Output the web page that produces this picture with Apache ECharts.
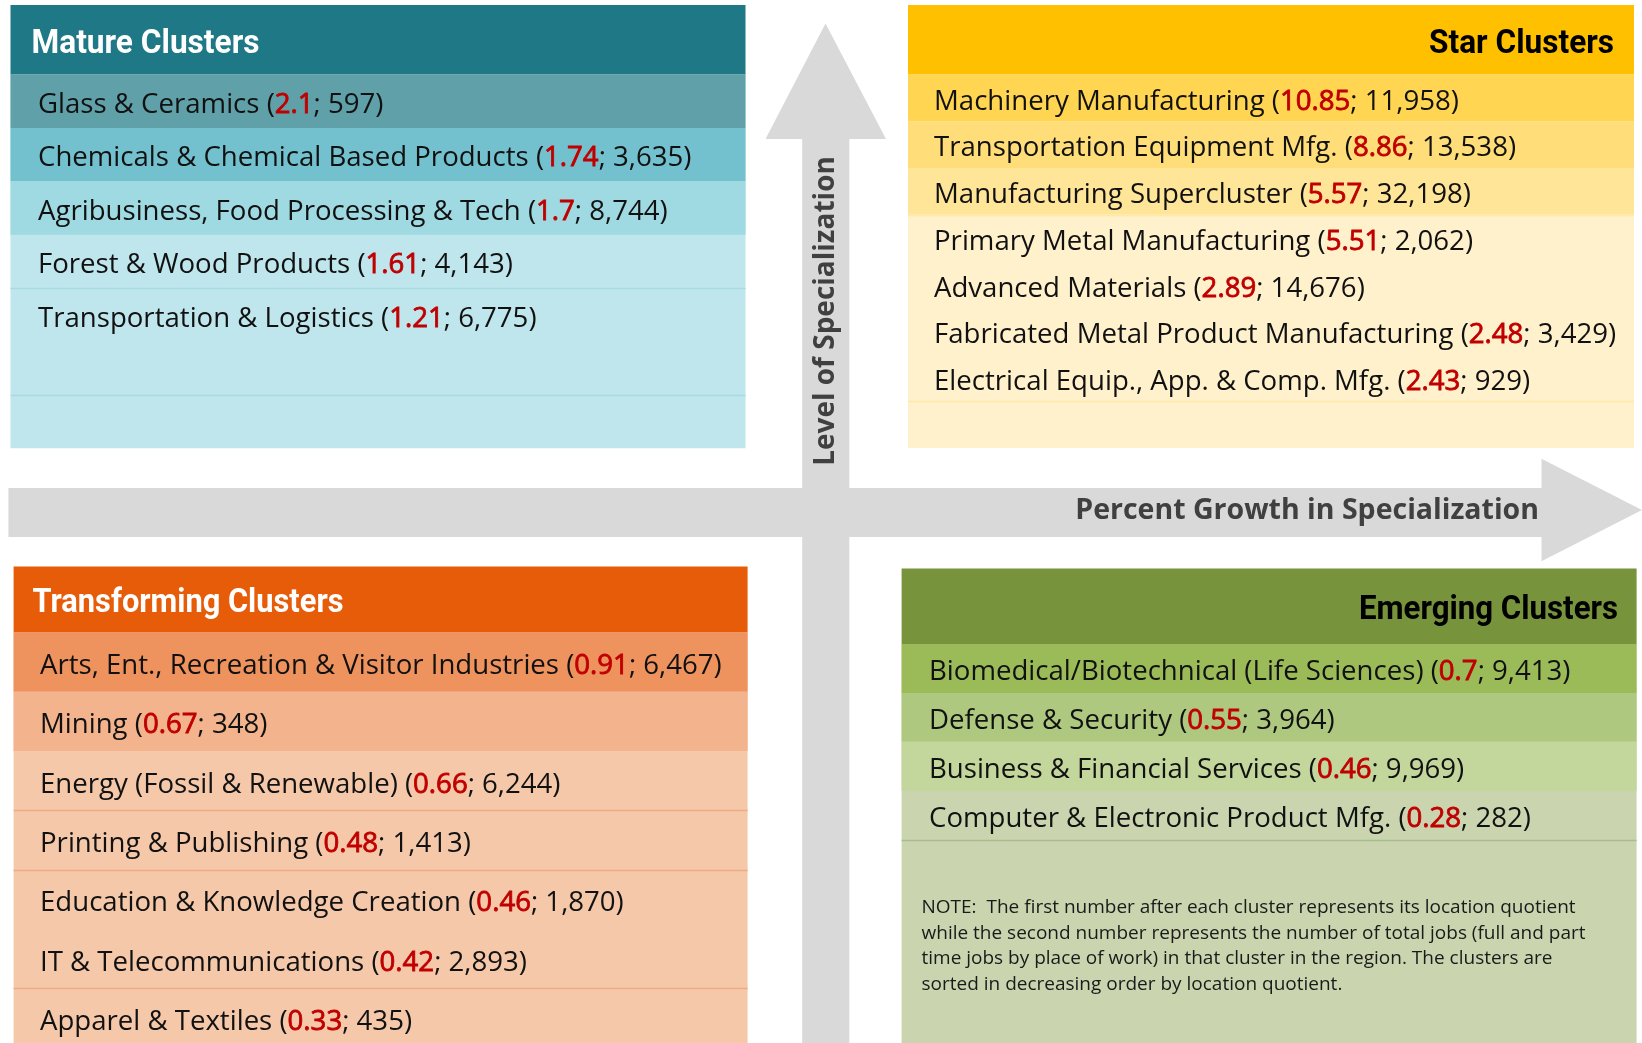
<!DOCTYPE html>
<html>
<head>
<meta charset="utf-8">
<title>Cluster Matrix</title>
<script src="https://cdn.jsdelivr.net/npm/echarts@6/dist/echarts.min.js"></script>
<style>
html, body { margin: 0; padding: 0; background: #fff; }
#chart { width: 1642px; height: 1043px; }
</style>
</head>
<body>
<div id="chart"></div>
<script>
// cluster name, location quotient, total jobs
const matureNames = ['Glass & Ceramics', 'Chemicals & Chemical Based Products', 'Agribusiness, Food Processing & Tech', 'Forest & Wood Products', 'Transportation & Logistics'];
const matureLQ = [2.1, 1.74, 1.7, 1.61, 1.21];
const matureJobs = [597, 3635, 8744, 4143, 6775];

const starNames = ['Machinery Manufacturing', 'Transportation Equipment Mfg.', 'Manufacturing Supercluster', 'Primary Metal Manufacturing', 'Advanced Materials', 'Fabricated Metal Product Manufacturing', 'Electrical Equip., App. & Comp. Mfg.'];
const starLQ = [10.85, 8.86, 5.57, 5.51, 2.89, 2.48, 2.43];
const starJobs = [11958, 13538, 32198, 2062, 14676, 3429, 929];

const transNames = ['Arts, Ent., Recreation & Visitor Industries', 'Mining', 'Energy (Fossil & Renewable)', 'Printing & Publishing', 'Education & Knowledge Creation', 'IT & Telecommunications', 'Apparel & Textiles'];
const transLQ = [0.91, 0.67, 0.66, 0.48, 0.46, 0.42, 0.33];
const transJobs = [6467, 348, 6244, 1413, 1870, 2893, 435];

const emergNames = ['Biomedical/Biotechnical (Life Sciences)', 'Defense & Security', 'Business & Financial Services', 'Computer & Electronic Product Mfg.'];
const emergLQ = [0.7, 0.55, 0.46, 0.28];
const emergJobs = [9413, 3964, 9969, 282];

const axisNames = ['Level of Specialization', 'Percent Growth in Specialization'];
const noteLines = [
  'NOTE:  The first number after each cluster represents its location quotient',
  'while the second number represents the number of total jobs (full and part',
  'time jobs by place of work) in that cluster in the region. The clusters are',
  'sorted in decreasing order by location quotient.'
];

const chart = echarts.init(document.getElementById('chart'));

const BODY_FONT = '"Open Sans", Lato, sans-serif';
const TITLE_FONT = 'Roboto, "Liberation Sans", sans-serif';
const AXIS_FONT = '"Open Sans", sans-serif';
const RED = '#C00000';
const GREY = '#D9D9D9';
const BODY_SIZE = 27.6;
const TITLE_SIZE = 34;

const fmt = v => v.toLocaleString('en-US');

// titles are a condensed face in the original: squeeze to the measured width
const measureCtx = document.createElement('canvas').getContext('2d');
function squeeze(text, target) {
  measureCtx.font = `bold ${TITLE_SIZE}px ${TITLE_FONT}`;
  return target / measureCtx.measureText(text).width;
}

function panel(p) {
  const els = [];
  const bodyTop = p.y + p.headH;
  els.push({ type: 'rect', shape: { x: p.x, y: bodyTop, width: p.w, height: p.bottom - bodyTop }, style: { fill: p.base } });
  els.push({ type: 'rect', shape: { x: p.x, y: p.y, width: p.w, height: p.headH }, style: { fill: p.headColor } });
  els.push({
    type: 'text',
    x: p.titleX,
    y: p.titleY,
    scaleX: squeeze(p.title, p.titleW),
    style: {
      text: p.title, fill: p.titleColor, fontFamily: TITLE_FONT, fontWeight: 'bold', fontSize: TITLE_SIZE,
      textAlign: p.titleAlign, verticalAlign: 'middle'
    }
  });
  p.rowColors.forEach((c, i) => {
    els.push({ type: 'rect', shape: { x: p.x, y: bodyTop + i * p.rowH, width: p.w, height: p.rowH }, style: { fill: c } });
  });
  p.lines.forEach(i => {
    const ly = Math.round(bodyTop + (i + 1) * p.rowH) + 0.5;
    els.push({ type: 'line', shape: { x1: p.x, y1: ly, x2: p.x + p.w, y2: ly }, style: { stroke: p.lineColor, lineWidth: 1.5 } });
  });
  p.names.forEach((name, i) => {
    els.push({
      type: 'text',
      x: p.textX,
      y: bodyTop + (i + 0.5) * p.rowH + 4,
      style: {
        text: `{n|${name} (}{r|${p.lq[i]}}{n|; ${fmt(p.jobs[i])})}`,
        fontFamily: BODY_FONT, fontSize: BODY_SIZE,
        textAlign: 'left', verticalAlign: 'middle',
        rich: {
          n: { fontFamily: BODY_FONT, fontSize: BODY_SIZE, fill: '#111' },
          // quotient is a touch heavier than the rest of the line
          r: { fontFamily: BODY_FONT, fontSize: BODY_SIZE, fill: RED, stroke: RED, lineWidth: 0.8 }
        }
      }
    });
  });
  return els;
}

const elements = [];

// axis arrows
elements.push({
  type: 'polygon',
  shape: { points: [[8.4, 488], [1541.5, 488], [1541.5, 458.7], [1642, 510], [1541.5, 561.3], [1541.5, 537], [8.4, 537]] },
  style: { fill: GREY }
});
elements.push({
  type: 'polygon',
  shape: { points: [[802.2, 1043], [802.2, 139], [765.5, 139], [825.5, 23.5], [886, 139], [849.3, 139], [849.3, 1043]] },
  style: { fill: GREY }
});
elements.push({
  type: 'text', x: 826, y: 311, rotation: Math.PI / 2,
  style: { text: axisNames[0], fill: '#404040', fontFamily: AXIS_FONT, fontWeight: 'bold', fontSize: 28, textAlign: 'center', verticalAlign: 'middle' }
});
elements.push({
  type: 'text', x: 1539, y: 511,
  style: { text: axisNames[1], fill: '#404040', fontFamily: AXIS_FONT, fontWeight: 'bold', fontSize: 28.5, textAlign: 'right', verticalAlign: 'middle' }
});

elements.push(...panel({
  x: 10.5, y: 5, w: 735, headH: 69.5, rowH: 53.4, bottom: 448.3,
  headColor: '#1E7886', base: '#BEE6EC', title: 'Mature Clusters', titleColor: '#fff', titleAlign: 'left', titleX: 31.5, titleY: 44, titleW: 228,
  rowColors: ['#5FA0A9', '#73C1CE', '#9FD9E1'], lines: [3, 5], lineColor: '#A9DAE2',
  names: matureNames, lq: matureLQ, jobs: matureJobs, textX: 38
}));
elements.push(...panel({
  x: 908, y: 5, w: 726, headH: 69.5, rowH: 46.7, bottom: 448,
  headColor: '#FFC000', base: '#FFF1CC', title: 'Star Clusters', titleColor: '#000', titleAlign: 'right', titleX: 1614, titleY: 44, titleW: 185,
  rowColors: ['#FFD552', '#FFDD78', '#FFE598'], lines: [2, 6], lineColor: '#FFE8A8',
  names: starNames, lq: starLQ, jobs: starJobs, textX: 934
}));
elements.push(...panel({
  x: 13.6, y: 566.5, w: 734, headH: 66, rowH: 59.3, bottom: 1043,
  headColor: '#E65C08', base: '#F5C8AA', title: 'Transforming Clusters', titleColor: '#fff', titleAlign: 'left', titleX: 32.5, titleY: 603.5, titleW: 311,
  rowColors: ['#EE935E', '#F2B38D'], lines: [2, 3, 5], lineColor: '#F0AA84',
  names: transNames, lq: transLQ, jobs: transJobs, textX: 40
}));
elements.push(...panel({
  x: 901.6, y: 568.6, w: 735, headH: 75.4, rowH: 48.9, bottom: 1043,
  headColor: '#77933C', base: '#CAD5B0', title: 'Emerging Clusters', titleColor: '#000', titleAlign: 'right', titleX: 1618, titleY: 610.5, titleW: 259,
  rowColors: ['#9BBB59', '#AFC87F', '#C3D69C'], lines: [3], lineColor: '#A9BC8A',
  names: emergNames, lq: emergLQ, jobs: emergJobs, textX: 929
}));

elements.push({
  type: 'text', x: 921.5, y: 895,
  style: { text: noteLines.join('\n'), fill: '#1a1a1a', fontFamily: BODY_FONT, fontSize: 19, lineHeight: 25.6, textAlign: 'left', verticalAlign: 'top' }
});

chart.setOption({ animation: false, graphic: { elements: elements } });
</script>
</body>
</html>
